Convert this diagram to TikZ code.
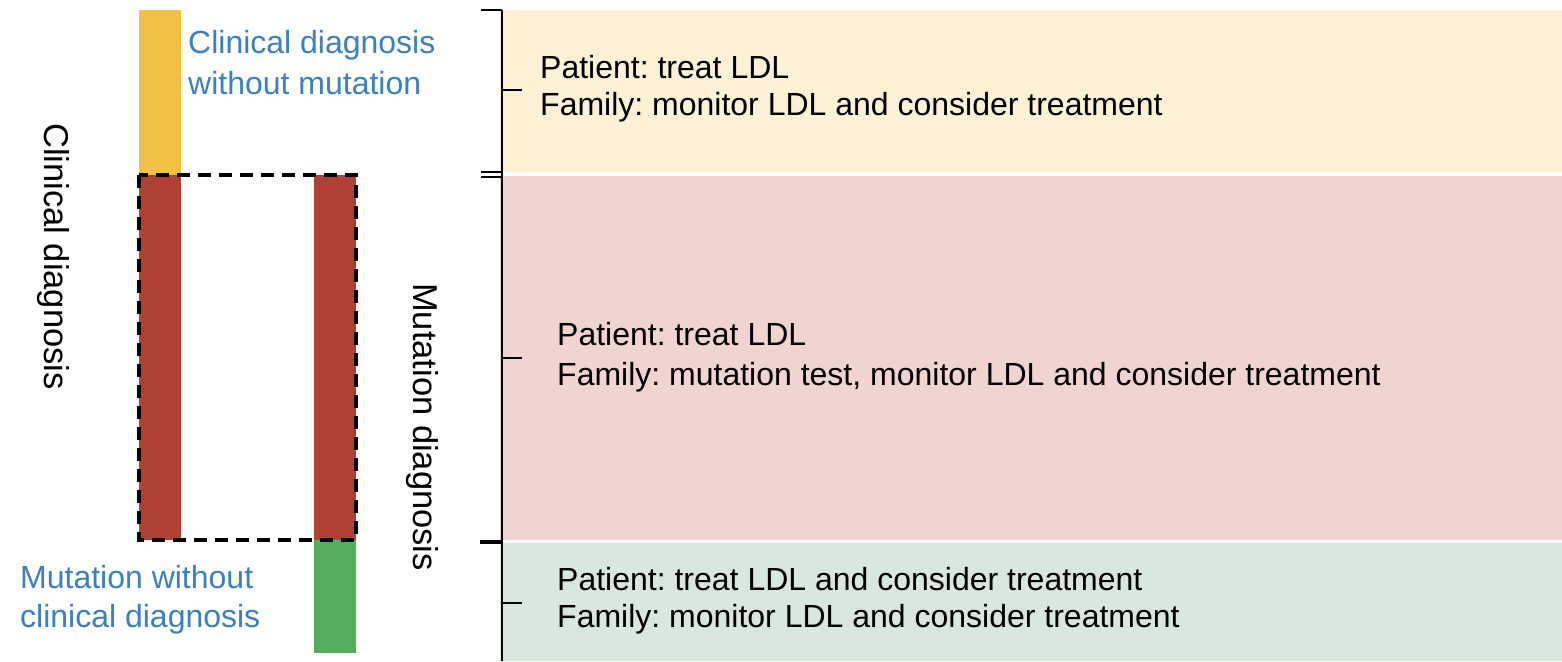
\documentclass[tikz,border=0pt]{standalone}
\usepackage{fontspec}
\setmainfont{Liberation Sans}
\frenchspacing
\begin{document}
\begin{tikzpicture}[x=1pt,y=-1pt,
  txt/.style={font=\fontsize{32}{38}\selectfont, inner sep=0pt, anchor=base west},
  bluetxt/.style={txt, text=bluec},
  vtxt/.style={font=\fontsize{34.5}{40}\selectfont, inner sep=0pt, rotate=-90, anchor=base west},
  brk/.style={line width=2.5pt, black},
  bar/.style={draw=none, inner sep=0pt, minimum width=42pt, anchor=north west}]
\definecolor{yelbar}{HTML}{F3C244}
\definecolor{redbar}{HTML}{B04032}
\definecolor{grnbar}{HTML}{52AE5A}
\definecolor{yelbg}{HTML}{FDF1D5}
\definecolor{redbg}{HTML}{F0D4D0}
\definecolor{grnbg}{HTML}{D9E8DC}
\definecolor{bluec}{HTML}{3A80C3}
\useasboundingbox (0,0) rectangle (1562,661);
% backgrounds
\fill[yelbg] (500,10) rectangle (1562,172);
\fill[redbg] (500,176) rectangle (1562,540);
\fill[grnbg] (500,543) rectangle (1562,661);
% bars
\node[bar, fill=yelbar, minimum height=165pt] (yb) at (139,10) {};
\node[bar, fill=redbar, minimum height=365pt] (rl) at (139,175) {};
\node[bar, fill=redbar, minimum height=365pt] (rr) at (314,175) {};
\node[bar, fill=grnbar, minimum height=113pt] (gb) at (314,540) {};
% dashed box
\coordinate (d1) at (139,175);
\coordinate (d2) at (356,540);
\draw[line width=4pt, dash pattern=on 13pt off 8pt] (d1) rectangle (d2);
% brackets
\coordinate (b0) at (502,10);
\coordinate (b1) at (502,661);
\draw[brk] (b0) -- (b1);
\draw[brk] (481,10) -- (b0);
\draw[brk] (481,172) -- (502,172);
\draw[brk] (481,177) -- (502,177);
\draw[line width=4.5pt] (480,542) -- (502,542);
\draw[brk] (502,90) -- (522,90);
\draw[brk] (502,358) -- (522,358);
\draw[brk] (502,603) -- (522,603);
% labels
\node[bluetxt] (cd1) at (188,54) {Clinical diagnosis};
\node[bluetxt] (cd2) at (188,94) {without mutation};
\node[bluetxt] (mw1) at (20,588) {Mutation without};
\node[bluetxt] (mw2) at (20,627) {clinical diagnosis};
\node[vtxt] (cdv) at (44,123) {Clinical diagnosis};
\node[vtxt] (mdv) at (413,283) {Mutation diagnosis};
% right texts
\node[txt] (p1) at (540,78) {Patient: treat LDL};
\node[txt] (f1) at (540,115) {Family: monitor LDL and consider treatment};
\node[txt] (p2) at (557,345) {Patient: treat LDL};
\node[txt] (f2) at (557,385) {Family: mutation test, monitor LDL and consider treatment};
\node[txt] (p3) at (557,590) {Patient: treat LDL and consider treatment};
\node[txt] (f3) at (557,627) {Family: monitor LDL and consider treatment};
\end{tikzpicture}
\end{document}
